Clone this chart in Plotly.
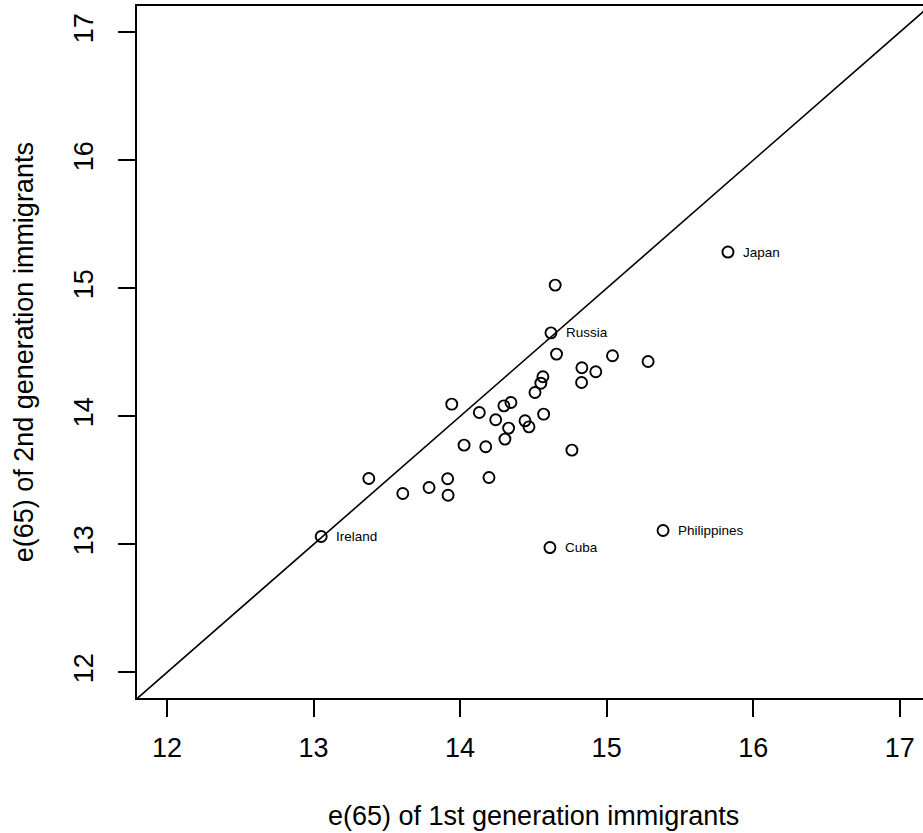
import plotly.graph_objects as go

# e(65) values
first_gen = [14.649, 14.620, 14.658, 15.040, 15.283, 14.831, 14.926, 14.565, 14.551, 14.829,
             14.511, 13.943, 14.131, 14.299, 14.347, 14.443, 14.570, 14.243, 14.331, 14.470,
             14.027, 14.175, 14.306, 14.763, 13.377, 13.609, 13.788, 13.915, 13.918, 14.197,
             13.052, 14.613, 15.385, 15.828]
second_gen = [15.025, 14.652, 14.486, 14.473, 14.428, 14.379, 14.348, 14.309, 14.259, 14.264,
              14.186, 14.095, 14.030, 14.082, 14.108, 13.965, 14.017, 13.973, 13.908, 13.918,
              13.775, 13.762, 13.822, 13.736, 13.514, 13.397, 13.444, 13.512, 13.384, 13.522,
              13.061, 12.975, 13.108, 15.283]
point_labels = ["", "Russia", "", "", "", "", "", "", "", "",
                "", "", "", "", "", "", "", "", "", "",
                "", "", "", "", "", "", "", "", "", "",
                "Ireland", "Cuba", "Philippines", "Japan"]
tick_values = [12, 13, 14, 15, 16, 17]
tick_text = ["12", "13", "14", "15", "16", "17"]
x_title = "e(65) of 1st generation immigrants"
y_title = "e(65) of 2nd generation immigrants"

x_range = [11.795, 17.159]
y_range = [11.80, 17.205]

FONT = "Liberation Sans, Arial, Helvetica, sans-serif"

fig = go.Figure()

# y = x reference line
fig.add_trace(go.Scatter(
    x=[11.5, 17.5], y=[11.5, 17.5], mode="lines",
    line=dict(color="black", width=1.6), hoverinfo="skip", showlegend=False))

fig.add_trace(go.Scatter(
    x=first_gen, y=second_gen, mode="markers",
    marker=dict(symbol="circle-open", size=11, color="black", line=dict(width=1.9, color="black")),
    showlegend=False))

for xv, yv, lab in zip(first_gen, second_gen, point_labels):
    if lab:
        fig.add_annotation(x=xv, y=yv, xref="x", yref="y", text=lab, showarrow=False,
                           xanchor="left", yanchor="middle", xshift=13,
                           font=dict(family=FONT, size=13.5, color="black"))

fig.add_annotation(x=14.5, y=0, xref="x", yref="paper", text=x_title, showarrow=False,
                   xanchor="center", yanchor="middle", yshift=-118,
                   font=dict(family=FONT, size=27, color="black"))
fig.add_annotation(x=0, y=14.5, xref="paper", yref="y", text=y_title, showarrow=False,
                   textangle=-90, xanchor="center", yanchor="middle", xshift=-113,
                   font=dict(family=FONT, size=27, color="black"))

axis_common = dict(
    tickvals=tick_values, ticktext=tick_text, ticks="outside", ticklen=17, tickwidth=1.5,
    tickcolor="black", showgrid=False, zeroline=False, showline=True, linecolor="black",
    linewidth=1.6, tickfont=dict(family=FONT, size=27, color="black"))

fig.update_xaxes(range=x_range, mirror=True, ticklabelstandoff=8, **axis_common)
fig.update_yaxes(range=y_range, mirror=False, tickangle=-90, ticklabelstandoff=14, **axis_common)

fig.update_layout(
    width=923, height=833, margin=dict(l=137, r=0, t=6, b=135, pad=0),
    paper_bgcolor="white", plot_bgcolor="white", font=dict(family=FONT, color="black"))

fig.write_html("out.html")
